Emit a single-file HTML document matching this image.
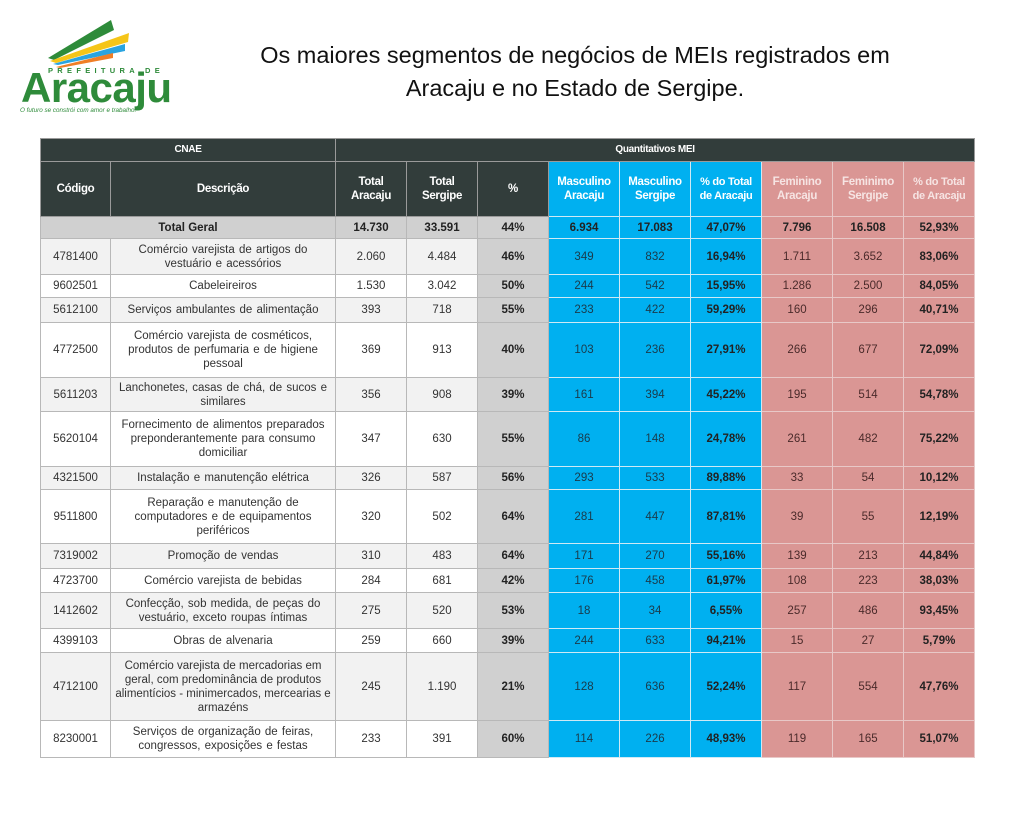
<!DOCTYPE html>
<html><head><meta charset="utf-8"><style>
body{margin:0;width:1024px;height:816px;background:#fff;position:relative;overflow:hidden;font-family:"Liberation Sans",Arial,sans-serif}
.title{position:absolute;left:175px;width:800px;top:39px;text-align:center;font-size:23.5px;line-height:33px;color:#111}
table{position:absolute;left:40px;top:138px;border-collapse:collapse;table-layout:fixed;width:934px}
td{border:1px solid #b8b8b8;text-align:center;vertical-align:middle;font-size:11.5px;color:#333;padding:0 6px;line-height:14px;overflow:hidden}
td.d{word-spacing:1px;padding:0 7px}
.h td{background:#323d3b;color:#fff;font-weight:bold;font-size:11.5px;border-color:#9a9a9a;padding:0;white-space:nowrap;letter-spacing:-0.3px}
.h td.b{background:#00b0f0;color:#fff}.h td.p{background:#da9694;color:#f6e4e3}
.t td{background:#d0d0d0;font-weight:bold;color:#222}
.t td.b{background:#00b0f0}.t td.p{background:#da9694}
tr.g td{background:#f2f2f2}
td.pc{background:#d0d0d0 !important;font-weight:bold;color:#222}
td.b{background:#00b0f0 !important;border-color:#cfe9f5;color:#1a3a4a}
td.p{background:#da9694 !important;border-color:#e8c8c7;color:#4a2a2a}
td.bb{font-weight:bold;color:#222}
</style></head><body>
<svg style="position:absolute;left:0;top:0" width="200" height="120" viewBox="0 0 200 120">
<polygon points="48,58 111,20 114,30 54,60" fill="#2e8b3a"/>
<polygon points="50,61 129,33 128,42 56,63" fill="#f5c518"/>
<polygon points="53,64 125,44 125,51 58,65" fill="#2aa4e0"/>
<polygon points="56,67 113,53 113,58 60,68" fill="#f07e26"/>
<text x="48" y="73" font-size="7.5" letter-spacing="4.3" fill="#2e8b3a" font-family="Liberation Sans" font-weight="bold">PREFEITURA DE</text>
<text x="21" y="102" font-size="42" font-weight="bold" fill="#2e8b3a" font-family="Liberation Sans" letter-spacing="-0.5">Aracaju</text>
<text x="20" y="112" font-size="6.3" font-style="italic" fill="#2e8b3a" font-family="Liberation Sans">O futuro se constrói com amor e trabalho.</text>
</svg>
<div class="title">Os maiores segmentos de negócios de MEIs registrados em<br>Aracaju e no Estado de Sergipe.</div>
<table>
<colgroup><col style="width:70px"><col style="width:225px"><col span="9" style="width:71px"></colgroup>
<tr class="h" style="height:23px"><td colspan="2" style="font-size:10px">CNAE</td><td colspan="9" style="font-size:10px">Quantitativos MEI</td></tr>
<tr class="h" style="height:55px"><td>Código</td><td>Descrição</td><td>Total<br>Aracaju</td><td>Total<br>Sergipe</td><td>%</td><td class="b">Masculino<br>Aracaju</td><td class="b">Masculino<br>Sergipe</td><td class="b" style="font-size:11px">% do Total<br>de Aracaju</td><td class="p">Feminino<br>Aracaju</td><td class="p">Feminimo<br>Sergipe</td><td class="p" style="font-size:11px">% do Total<br>de Aracaju</td></tr>
<tr class="t" style="height:22px"><td colspan="2">Total Geral</td><td>14.730</td><td>33.591</td><td>44%</td><td class="b bb">6.934</td><td class="b bb">17.083</td><td class="b bb">47,07%</td><td class="p bb">7.796</td><td class="p bb">16.508</td><td class="p bb">52,93%</td></tr>
<tr class="g" style="height:36px"><td>4781400</td><td class="d" style="padding:0 14px">Comércio varejista de artigos do vestuário e acessórios</td><td>2.060</td><td>4.484</td><td class="pc">46%</td><td class="b">349</td><td class="b">832</td><td class="b bb">16,94%</td><td class="p">1.711</td><td class="p">3.652</td><td class="p bb">83,06%</td></tr>
<tr style="height:23px"><td>9602501</td><td class="d">Cabeleireiros</td><td>1.530</td><td>3.042</td><td class="pc">50%</td><td class="b">244</td><td class="b">542</td><td class="b bb">15,95%</td><td class="p">1.286</td><td class="p">2.500</td><td class="p bb">84,05%</td></tr>
<tr class="g" style="height:25px"><td>5612100</td><td class="d" style="padding:0 3px">Serviços ambulantes de alimentação</td><td>393</td><td>718</td><td class="pc">55%</td><td class="b">233</td><td class="b">422</td><td class="b bb">59,29%</td><td class="p">160</td><td class="p">296</td><td class="p bb">40,71%</td></tr>
<tr style="height:55px"><td>4772500</td><td class="d">Comércio varejista de cosméticos, produtos de perfumaria e de higiene pessoal</td><td>369</td><td>913</td><td class="pc">40%</td><td class="b">103</td><td class="b">236</td><td class="b bb">27,91%</td><td class="p">266</td><td class="p">677</td><td class="p bb">72,09%</td></tr>
<tr class="g" style="height:34px"><td>5611203</td><td class="d" style="padding:0 3px">Lanchonetes, casas de chá, de sucos e similares</td><td>356</td><td>908</td><td class="pc">39%</td><td class="b">161</td><td class="b">394</td><td class="b bb">45,22%</td><td class="p">195</td><td class="p">514</td><td class="p bb">54,78%</td></tr>
<tr style="height:55px"><td>5620104</td><td class="d" style="padding:0 3px">Fornecimento de alimentos preparados preponderantemente para consumo domiciliar</td><td>347</td><td>630</td><td class="pc">55%</td><td class="b">86</td><td class="b">148</td><td class="b bb">24,78%</td><td class="p">261</td><td class="p">482</td><td class="p bb">75,22%</td></tr>
<tr class="g" style="height:23px"><td>4321500</td><td class="d">Instalação e manutenção elétrica</td><td>326</td><td>587</td><td class="pc">56%</td><td class="b">293</td><td class="b">533</td><td class="b bb">89,88%</td><td class="p">33</td><td class="p">54</td><td class="p bb">10,12%</td></tr>
<tr style="height:54px"><td>9511800</td><td class="d">Reparação e manutenção de computadores e de equipamentos periféricos</td><td>320</td><td>502</td><td class="pc">64%</td><td class="b">281</td><td class="b">447</td><td class="b bb">87,81%</td><td class="p">39</td><td class="p">55</td><td class="p bb">12,19%</td></tr>
<tr class="g" style="height:25px"><td>7319002</td><td class="d">Promoção de vendas</td><td>310</td><td>483</td><td class="pc">64%</td><td class="b">171</td><td class="b">270</td><td class="b bb">55,16%</td><td class="p">139</td><td class="p">213</td><td class="p bb">44,84%</td></tr>
<tr style="height:24px"><td>4723700</td><td class="d">Comércio varejista de bebidas</td><td>284</td><td>681</td><td class="pc">42%</td><td class="b">176</td><td class="b">458</td><td class="b bb">61,97%</td><td class="p">108</td><td class="p">223</td><td class="p bb">38,03%</td></tr>
<tr class="g" style="height:36px"><td>1412602</td><td class="d">Confecção, sob medida, de peças do vestuário, exceto roupas íntimas</td><td>275</td><td>520</td><td class="pc">53%</td><td class="b">18</td><td class="b">34</td><td class="b bb">6,55%</td><td class="p">257</td><td class="p">486</td><td class="p bb">93,45%</td></tr>
<tr style="height:24px"><td>4399103</td><td class="d">Obras de alvenaria</td><td>259</td><td>660</td><td class="pc">39%</td><td class="b">244</td><td class="b">633</td><td class="b bb">94,21%</td><td class="p">15</td><td class="p">27</td><td class="p bb">5,79%</td></tr>
<tr class="g" style="height:68px"><td>4712100</td><td class="d" style="padding:0 4px;word-spacing:0">Comércio varejista de mercadorias em geral, com predominância de produtos alimentícios - minimercados, mercearias e armazéns</td><td>245</td><td>1.190</td><td class="pc">21%</td><td class="b">128</td><td class="b">636</td><td class="b bb">52,24%</td><td class="p">117</td><td class="p">554</td><td class="p bb">47,76%</td></tr>
<tr style="height:37px"><td>8230001</td><td class="d">Serviços de organização de feiras, congressos, exposições e festas</td><td>233</td><td>391</td><td class="pc">60%</td><td class="b">114</td><td class="b">226</td><td class="b bb">48,93%</td><td class="p">119</td><td class="p">165</td><td class="p bb">51,07%</td></tr>
</table>
</body></html>
